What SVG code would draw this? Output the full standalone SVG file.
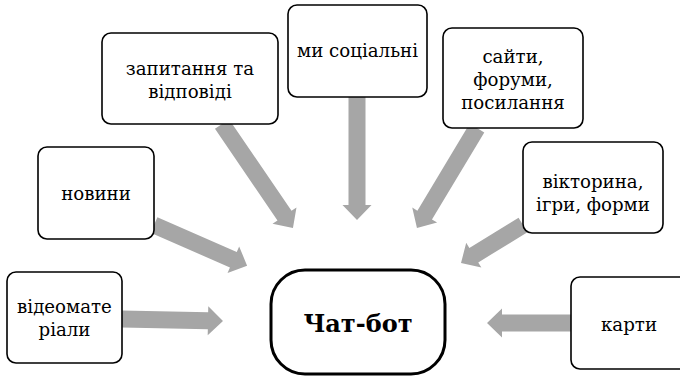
<svg xmlns="http://www.w3.org/2000/svg" width="680" height="377" viewBox="0 0 680 377">
<style>
.box{fill:#fff;stroke:#000;stroke-width:1.6}
.main{fill:#fff;stroke:#000;stroke-width:3}
.t{font-family:'DejaVu Serif','Liberation Serif',serif;font-size:18.2px;fill:#000;text-anchor:middle}
.b{font-family:'DejaVu Serif','Liberation Serif',serif;font-size:24px;font-weight:bold;fill:#000;text-anchor:middle}
.ar{fill:#A6A6A6}
</style>
<rect width="680" height="377" fill="#fff"/>
<g id="connectors">
<polygon class="ar" transform="translate(122,319) rotate(1.1)" points="0,-8.5 86,-8.5 86,-14.5 101,0 86,14.5 86,8.5 0,8.5"/>
<polygon class="ar" transform="translate(154,225) rotate(23.6)" points="0,-8.5 86.6,-8.5 86.6,-14.5 101.6,0 86.6,14.5 86.6,8.5 0,8.5"/>
<polygon class="ar" transform="translate(222,124) rotate(55.7)" points="0,-8.5 110.9,-8.5 110.9,-14.5 125.9,0 110.9,14.5 110.9,8.5 0,8.5"/>
<polygon class="ar" transform="translate(357,97) rotate(90)" points="0,-8.5 108,-8.5 108,-14.5 123,0 108,14.5 108,8.5 0,8.5"/>
<polygon class="ar" transform="translate(477,128) rotate(121)" points="0,-8.5 101.6,-8.5 101.6,-14.5 116.6,0 101.6,14.5 101.6,8.5 0,8.5"/>
<polygon class="ar" transform="translate(523,225) rotate(148.5)" points="0,-8.5 57.7,-8.5 57.7,-14.5 72.7,0 57.7,14.5 57.7,8.5 0,8.5"/>
<polygon class="ar" transform="translate(571,323) rotate(180)" points="0,-8.5 69,-8.5 69,-14.5 84,0 69,14.5 69,8.5 0,8.5"/>
</g>
<g id="node-video">
<rect class="box" x="7" y="272" width="115" height="91" rx="9"/>
<text class="t" x="64.5" y="313">відеомате</text>
<text class="t" x="64.5" y="336">ріали</text>
</g>
<g id="node-news">
<rect class="box" x="38" y="147" width="116" height="92" rx="9"/>
<text class="t" x="96" y="200">новини</text>
</g>
<g id="node-qa">
<rect class="box" x="102" y="33" width="176" height="91" rx="9"/>
<text class="t" x="190" y="75">запитання та</text>
<text class="t" x="190" y="98">відповіді</text>
</g>
<g id="node-social">
<rect class="box" x="288" y="5" width="139" height="92" rx="9"/>
<text class="t" x="357.5" y="57">ми соціальні</text>
</g>
<g id="node-sites">
<rect class="box" x="443" y="28" width="140" height="100" rx="9"/>
<text class="t" x="513" y="63">сайти,</text>
<text class="t" x="513" y="86">форуми,</text>
<text class="t" x="513" y="109">посилання</text>
</g>
<g id="node-quiz">
<rect class="box" x="523" y="142" width="140" height="91" rx="9"/>
<text class="t" x="593" y="188">вікторина,</text>
<text class="t" x="593" y="211">ігри, форми</text>
</g>
<g id="node-maps">
<rect class="box" x="571" y="277" width="120" height="92" rx="9"/>
<text class="t" x="629" y="331">карти</text>
</g>
<g id="node-chatbot">
<rect class="main" x="271" y="270" width="174" height="104" rx="34"/>
<text class="b" x="358" y="332">Чат-бот</text>
</g>
</svg>
